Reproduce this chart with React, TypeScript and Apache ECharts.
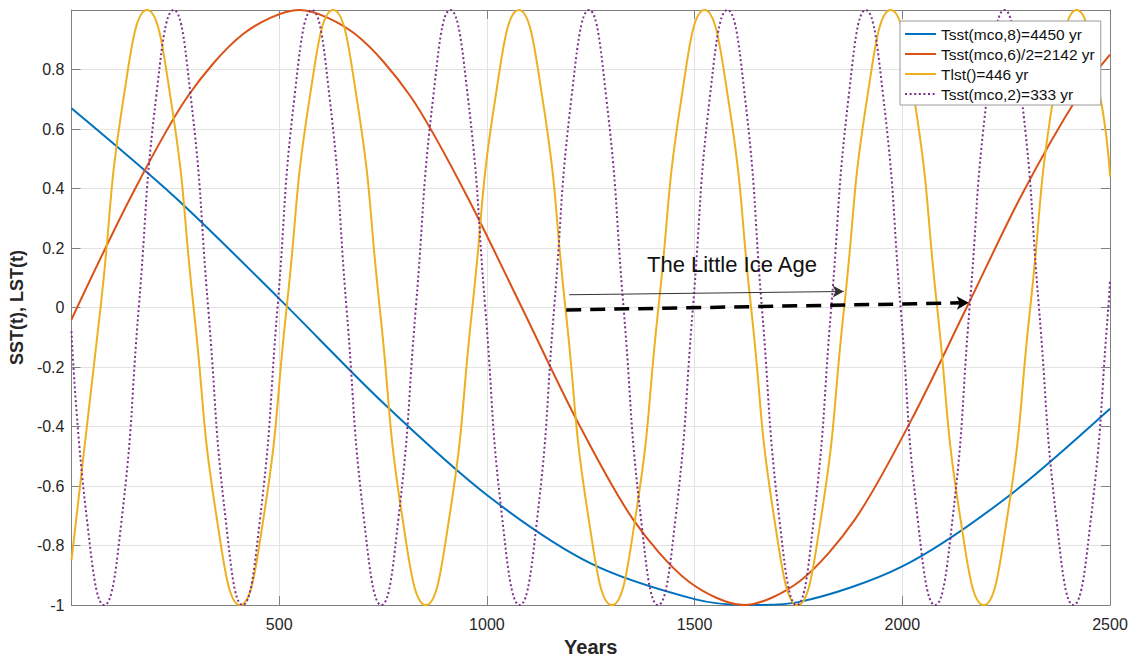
import { useEffect, useRef } from "react";
import * as echarts from "echarts";

// Series values, [year, value]
const tsst8: [number, number][] = [
  [0, 0.67], [250, 0.37], [500, 0.03], [750, -0.32], [1000, -0.63], [1250, -0.86],
  [1500, -0.98], [1631, -1.0], [1750, -0.99], [2000, -0.87], [2250, -0.64], [2500, -0.34],
];

const tsst6: [number, number][] = [
  [0, -0.04], [146, 0.38], [280, 0.71], [414, 0.92], [548, 1.0], [682, 0.92], [816, 0.71],
  [950, 0.38], [1084, 0.0], [1217, -0.38], [1351, -0.71], [1485, -0.92], [1619, -1.0],
  [1753, -0.92], [1887, -0.71], [2021, -0.38], [2155, 0.0], [2288, 0.38], [2423, 0.71],
  [2500, 0.85],
];

const tlst: [number, number][] = [
  [0, -0.85], [70, 0], [126, 0.71], [182, 1], [238, 0.71], [294, 0], [350, -0.71],
  [406, -1], [462, -0.71], [518, 0], [574, 0.71], [630, 1], [686, 0.71], [742, 0],
  [797, -0.71], [853, -1], [909, -0.71], [965, 0], [1021, 0.71], [1077, 1], [1133, 0.71],
  [1189, 0], [1245, -0.71], [1301, -1], [1357, -0.71], [1413, 0], [1469, 0.71], [1524, 1],
  [1580, 0.71], [1636, 0], [1692, -0.71], [1748, -1], [1804, -0.71], [1860, 0], [1916, 0.71],
  [1972, 1], [2028, 0.71], [2084, 0], [2140, -0.71], [2196, -1], [2252, -0.71], [2308, 0],
  [2364, 0.71], [2420, 1], [2476, 0.71], [2500, 0.44],
];

const tsst2: [number, number][] = [
  [0, -0.08], [37, -0.71], [79, -1], [121, -0.71], [162, 0], [204, 0.71], [246, 1],
  [287, 0.71], [329, 0], [371, -0.71], [412, -1], [454, -0.71], [496, 0], [537, 0.71],
  [579, 1], [621, 0.71], [662, 0], [704, -0.71], [746, -1], [787, -0.71], [829, 0],
  [871, 0.71], [912, 1], [954, 0.71], [996, 0], [1037, -0.71], [1079, -1], [1121, -0.71],
  [1162, 0], [1204, 0.71], [1246, 1], [1287, 0.71], [1329, 0], [1371, -0.71], [1412, -1],
  [1454, -0.71], [1496, 0], [1537, 0.71], [1579, 1], [1621, 0.71], [1662, 0], [1704, -0.71],
  [1746, -1], [1787, -0.71], [1829, 0], [1871, 0.71], [1912, 1], [1954, 0.71], [1996, 0],
  [2037, -0.71], [2079, -1], [2121, -0.71], [2162, 0], [2204, 0.71], [2246, 1], [2287, 0.71],
  [2329, 0], [2371, -0.71], [2412, -1], [2454, -0.71], [2496, 0], [2500, 0.09],
];

const seriesNames = [
  "Tsst(mco,8)=4450 yr",
  "Tsst(mco,6)/2=2142 yr",
  "Tlst()=446 yr",
  "Tsst(mco,2)=333 yr",
];
const seriesColors = ["#0072BD", "#D95319", "#EDB120", "#7E2F8E"];

// Annotation arrows, [year, value] start and end
const thinArrow: [number, number][] = [[1198, 0.043], [1859, 0.054]];
const dashedArrow: [number, number][] = [[1191, -0.008], [2160, 0.016]];
const annotationText = "The Little Ice Age";
const annotationAt: [number, number] = [1590, 0.145];

const xRange = [0, 2500];
const yRange = [-1, 1];

const FONT = "'Liberation Sans', Arial, Helvetica, sans-serif";
const FRAME = "#808080";

export default function App() {
  const ref = useRef<HTMLDivElement>(null);

  useEffect(() => {
    if (!ref.current) return;
    const chart = echarts.init(ref.current, null, { renderer: "svg" });

    const tickLabel = { fontFamily: FONT, fontSize: 16, color: "#262626" };
    const frameAxis = {
      axisLine: { show: true, onZero: false, lineStyle: { color: FRAME, width: 1 } },
      axisTick: { show: true, inside: true, length: 9, lineStyle: { color: FRAME, width: 1 } },
    };

    const mkSeries = (i: number, data: [number, number][], smooth: number, extra: any = {}) => ({
      name: seriesNames[i],
      type: "line",
      data,
      smooth,
      symbol: "none",
      showSymbol: false,
      lineStyle: { color: seriesColors[i], width: 2, ...(extra.lineStyle || {}) },
      itemStyle: { color: seriesColors[i] },
      emphasis: { disabled: true },
      ...extra.rest,
    });

    chart.setOption({
      animation: false,
      grid: { left: 69, right: 21, top: 10, bottom: 39, containLabel: false },
      legend: {
        orient: "vertical",
        left: 900,
        top: 21,
        data: seriesNames,
        itemWidth: 31,
        itemHeight: 14,
        itemGap: 4,
        padding: [5, 6, 3, 4],
        backgroundColor: "#ffffff",
        borderColor: "#9a9a9a",
        borderWidth: 1,
        borderRadius: 0,
        itemStyle: { opacity: 0 },
        textStyle: { fontFamily: FONT, fontSize: 15.5, color: "#111" },
        selectedMode: false,
      },
      xAxis: [
        {
          type: "value",
          min: xRange[0],
          max: xRange[1],
          interval: 500,
          position: "bottom",
          name: "Years",
          nameLocation: "middle",
          nameGap: 20,
          nameTextStyle: { fontFamily: FONT, fontSize: 20, fontWeight: "bold", color: "#262626" },
          ...frameAxis,
          axisLabel: {
            ...tickLabel,
            margin: 11,
            formatter: (v: number) => (v === 0 ? "" : String(v)),
          },
          splitLine: { show: true, lineStyle: { color: "#e3e3e3", width: 1 } },
        },
        {
          type: "value",
          min: xRange[0],
          max: xRange[1],
          interval: 500,
          position: "top",
          ...frameAxis,
          axisLabel: { show: false },
          splitLine: { show: false },
        },
      ],
      yAxis: [
        {
          type: "value",
          min: yRange[0],
          max: yRange[1],
          interval: 0.2,
          position: "left",
          name: "SST(t), LST(t)",
          nameLocation: "middle",
          nameGap: 37,
          nameTextStyle: { fontFamily: FONT, fontSize: 18, fontWeight: "bold", color: "#262626" },
          ...frameAxis,
          axisLabel: {
            ...tickLabel,
            margin: 7,
            formatter: (v: number) => {
              const r = Math.round(v * 10) / 10;
              return r >= 1 ? "" : String(r);
            },
          },
          splitLine: { show: true, lineStyle: { color: "#e3e3e3", width: 1 } },
        },
        {
          type: "value",
          min: yRange[0],
          max: yRange[1],
          interval: 0.2,
          position: "right",
          ...frameAxis,
          axisLabel: { show: false },
          splitLine: { show: false },
        },
      ],
      series: [
        mkSeries(0, tsst8, 0.3),
        mkSeries(1, tsst6, 0.3),
        mkSeries(2, tlst, 0.5),
        mkSeries(3, tsst2, 0.5, {
          lineStyle: { type: [2, 2.6], cap: "butt" },
          rest: {
            markLine: {
              silent: true,
              animation: false,
              label: { show: false },
              emphasis: { disabled: true },
              symbol: ["none", "arrow"],
              data: [
                [
                  { coord: thinArrow[0], symbol: "none" },
                  {
                    coord: thinArrow[1],
                    symbol: "arrow",
                    symbolSize: [9, 11],
                    lineStyle: { color: "#333", width: 1, type: "solid" },
                  },
                ],
                [
                  { coord: dashedArrow[0], symbol: "none" },
                  {
                    coord: dashedArrow[1],
                    symbol: "arrow",
                    symbolSize: [10, 12],
                    lineStyle: { color: "#000", width: 3.5, type: [15, 9] },
                  },
                ],
              ],
            },
          },
        }),
      ],
    });

    const p = chart.convertToPixel({ xAxisIndex: 0, yAxisIndex: 0 }, annotationAt) as number[];
    chart.setOption({
      graphic: [
        {
          type: "text",
          x: p[0],
          y: p[1],
          z: 10,
          style: {
            text: annotationText,
            fontFamily: FONT,
            fontSize: 22,
            fill: "#111",
            align: "center",
            verticalAlign: "middle",
          },
        },
      ],
    });

    return () => chart.dispose();
  }, []);

  return (
    <div
      ref={ref}
      style={{ position: "absolute", left: 0, top: 0, width: 1131, height: 662, background: "#fff" }}
    />
  );
}
